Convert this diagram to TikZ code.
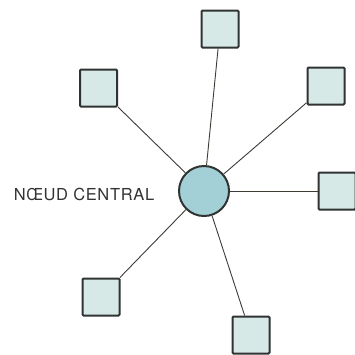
\documentclass[tikz,border=0pt]{standalone}
\usepackage{fontspec}
\setmainfont{TeX Gyre Heros}[LetterSpace=4]
\usepackage{tikz}
\usetikzlibrary{positioning}
\definecolor{nline}{HTML}{3F3A34}
\definecolor{nedge}{HTML}{2F3331}
\definecolor{nfill}{HTML}{D6E9E6}
\definecolor{ncore}{HTML}{A3D0D6}
\tikzset{
  nbox/.style={rectangle, rounded corners=1pt, draw=nedge, fill=nfill, line width=2pt,
               minimum size=37pt, inner sep=0pt},
  ncentre/.style={circle, draw=nedge, fill=ncore, line width=2pt,
                  minimum size=50pt, inner sep=0pt},
  nlink/.style={nline, line width=0.9pt},
  nlbl/.style={black!80, font=\fontsize{16.5}{18}\selectfont},
}
\begin{document}
\begin{tikzpicture}[x=1pt,y=-1pt]
  \useasboundingbox (0,0) rectangle (355,354);

  \node[ncentre] (c)  at (204,191) {};
  \node[nbox]    (b1) at (220,29)  {};
  \node[nbox]    (b2) at (98.5,88) {};
  \node[nbox]    (b3) at (326,86)  {};
  \node[nbox]    (b4) at (337,191) {};
  \node[nbox]    (b5) at (101,297) {};
  \node[nbox]    (b6) at (251,335) {};

  \node[nlbl] (lbl) at (84,194) {NŒUD CENTRAL};

  \draw[nlink] (c) -- (b1);
  \draw[nlink] (c) -- (b2);
  \draw[nlink] (c) -- (b3);
  \draw[nlink] (c) -- (b4);
  \draw[nlink] (c) -- (b5);
  \draw[nlink] (c) -- (b6);

\end{tikzpicture}
\end{document}
